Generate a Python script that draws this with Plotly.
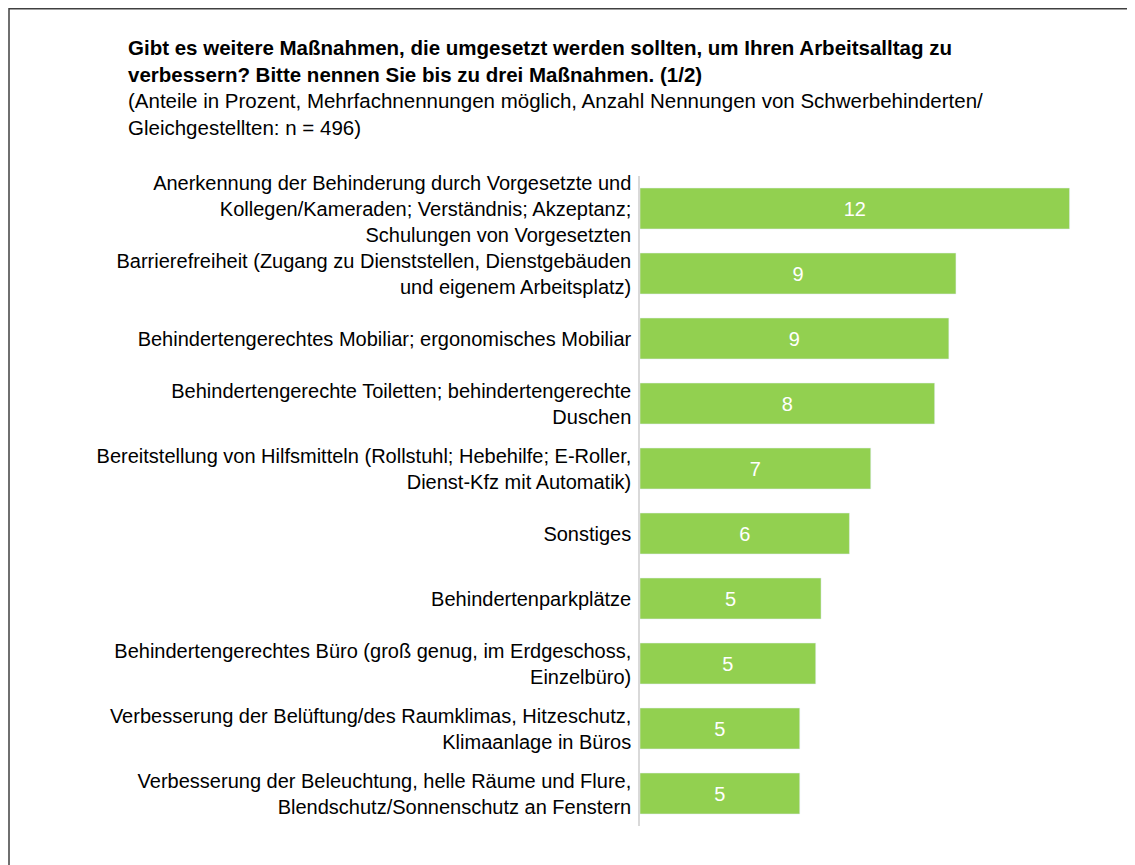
import plotly.graph_objects as go

GREEN = "#92D050"
FONT = "Arial, Liberation Sans, sans-serif"

categories = [
    "Anerkennung der Behinderung durch Vorgesetzte und<br>Kollegen/Kameraden; Verständnis; Akzeptanz;<br>Schulungen von Vorgesetzten",
    "Barrierefreiheit (Zugang zu Dienststellen, Dienstgebäuden<br>und eigenem Arbeitsplatz)",
    "Behindertengerechtes Mobiliar; ergonomisches Mobiliar",
    "Behindertengerechte Toiletten; behindertengerechte<br>Duschen",
    "Bereitstellung von Hilfsmitteln (Rollstuhl; Hebehilfe; E-Roller,<br>Dienst-Kfz mit Automatik)",
    "Sonstiges",
    "Behindertenparkplätze",
    "Behindertengerechtes Büro (groß genug, im Erdgeschoss,<br>Einzelbüro)",
    "Verbesserung der Belüftung/des Raumklimas, Hitzeschutz,<br>Klimaanlage in Büros",
    "Verbesserung der Beleuchtung, helle Räume und Flure,<br>Blendschutz/Sonnenschutz an Fenstern",
]
values = [12.1, 8.9, 8.7, 8.3, 6.5, 5.9, 5.1, 4.95, 4.5, 4.5]
value_labels = ["12", "9", "9", "8", "7", "6", "5", "5", "5", "5"]

title = (
    "<b>Gibt es weitere Maßnahmen, die umgesetzt werden sollten, um Ihren Arbeitsalltag zu<br>"
    "verbessern? Bitte nennen Sie bis zu drei Maßnahmen. (1/2)</b><br>"
    "(Anteile in Prozent, Mehrfachnennungen möglich, Anzahl Nennungen von Schwerbehinderten/<br>"
    "Gleichgestellten: n = 496)"
)

W, H = 1135, 865
L, R, T, B = 632, 33, 168, 47
pw, ph = W - L - R, H - T - B


def px_x(px):
    return (px - L) / pw


def px_y(py):
    return (H - B - py) / ph


fig = go.Figure(go.Bar(
    x=values, y=categories, orientation="h",
    marker_color=GREEN, width=0.63,
    text=value_labels, textposition="inside", insidetextanchor="middle",
    textfont=dict(color="white", size=20, family=FONT),
    hoverinfo="x+y",
))

# frame around the slide (only top and left edges are in view)
fig.add_shape(
    type="rect", xref="paper", yref="paper",
    x0=px_x(1), x1=px_x(W + 10), y0=px_y(H + 10), y1=px_y(0.75),
    line=dict(color="#404040", width=1.5),
)

fig.add_annotation(
    text=title, xref="paper", yref="paper",
    x=px_x(118), y=px_y(26), xanchor="left", yanchor="top",
    align="left", showarrow=False,
    font=dict(size=20.5, family=FONT, color="black"),
)

fig.update_layout(
    width=W, height=H,
    margin=dict(l=L, r=R, t=T, b=B),
    paper_bgcolor="white", plot_bgcolor="white",
    font=dict(family=FONT, size=20, color="black"),
    xaxis=dict(visible=False, range=[0, pw / 35.5]),
    yaxis=dict(
        autorange="reversed", showline=True, linecolor="#D9D9D9", linewidth=1.5,
        showgrid=False, ticks="", ticklabelstandoff=3,
        tickfont=dict(size=20, family=FONT, color="black"),
    ),
    bargap=0.37,
    showlegend=False,
)

fig.write_html("out.html")
